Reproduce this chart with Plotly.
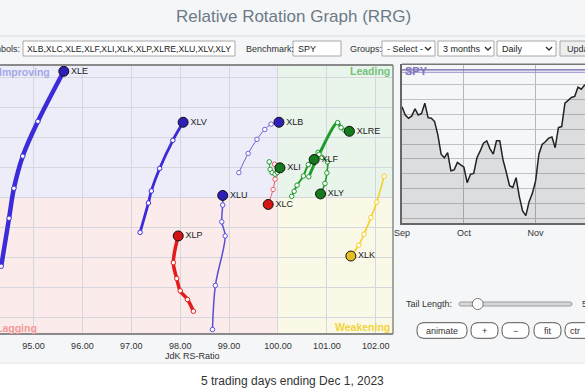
import plotly.graph_objects as go
import pandas as pd

W, H = 585, 390


def px(x):
    return x / W


def py(y):
    return 1 - y / H


# ---------------- RRG data (JdK RS-Ratio, JdK RS-Momentum), tail -> head ----------------
xle_ratio = [94.34, 94.50, 94.60, 94.78, 95.09, 95.62]
xle_mom = [97.70, 99.30, 100.30, 101.37, 102.53, 104.20]
xlv_ratio = [97.18, 97.35, 97.41, 97.58, 97.85, 98.06]
xlv_mom = [98.83, 99.81, 100.21, 100.96, 101.90, 102.50]
xlb_ratio = [99.20, 99.39, 99.57, 99.73, 99.86, 100.02]
xlb_mom = [100.82, 101.46, 101.93, 102.26, 102.44, 102.50]
xlu_ratio = [98.66, 98.72, 98.92, 98.85, 98.87, 98.87]
xlu_mom = [95.59, 97.06, 98.71, 99.18, 99.74, 100.06]
xlp_ratio = [98.27, 98.15, 98.00, 97.93, 97.86, 97.96]
xlp_mom = [96.20, 96.59, 96.88, 97.29, 97.82, 98.71]
xlc_ratio = [99.93, 99.99, 99.95, 99.94, 99.90, 99.80]
xlc_mom = [101.10, 100.90, 100.77, 100.60, 100.26, 99.76]
xli_ratio = [99.82, 99.84, 99.88, 99.94, 99.99, 100.04]
xli_mom = [101.18, 100.93, 100.82, 100.77, 100.83, 100.98]
xlf_ratio = [100.28, 100.33, 100.39, 100.52, 100.62, 100.74]
xlf_mom = [100.03, 100.20, 100.40, 100.71, 101.09, 101.26]
xlre_ratio = [100.63, 100.84, 101.22, 101.29, 101.37, 101.46]
xlre_mom = [100.68, 101.43, 102.49, 102.32, 102.23, 102.20]
xly_ratio = [100.82, 100.90, 101.01, 101.00, 100.96, 100.87]
xly_mom = [101.50, 101.33, 101.18, 100.81, 100.46, 100.11]
xlk_ratio = [102.17, 102.02, 101.90, 101.76, 101.65, 101.49]
xlk_mom = [100.70, 99.84, 99.32, 98.77, 98.40, 98.04]

# ---------------- SPY benchmark closes ----------------
spy_close = [447.6, 444.8, 443.7, 444.5, 446.9, 444.8, 445.3, 448.8, 443.9, 443.7,
             442.6, 438.1, 431.6, 430.4, 432.1, 426.0, 426.3, 428.8, 428.0, 427.2,
             422.0, 424.8, 425.1, 430.4, 432.7, 435.3, 436.1, 433.4, 431.6, 436.1,
             436.1, 429.7, 425.5, 421.0, 420.4, 423.7, 417.3, 412.5, 410.9, 415.6,
             418.4, 422.6, 431.6, 434.9, 435.8, 437.0, 437.4, 433.8, 440.6, 440.9,
             448.8, 449.9, 450.7, 451.1, 454.2, 453.5, 454.9, 455.2]
spy_levels = [460.0, 459.2]
month_ticks = ["2023-09-05", "2023-10-02", "2023-11-01"]
month_labels = ["Sep", "Oct", "Nov"]

ratio_ticks = [95, 96, 97, 98, 99, 100, 101, 102]

days = pd.bdate_range("2023-09-05", "2023-12-01")
days = [d.strftime("%Y-%m-%d") for d in days if d.strftime("%Y-%m-%d") != "2023-11-23"]
spy_dates = days[:len(spy_close)]

BLUE, BLUE_H = "#3B2BD9", "#2D1FB8"
GREEN, GREEN_H = "#1F9B2C", "#157A1E"
RED, RED_H = "#E31B1B", "#D41414"
YEL, YEL_H = "#F5CF2A", "#E6BE22"

series = [
    ("XLU", xlu_ratio, xlu_mom, "#5A4FD8", BLUE_H, 1.5),
    ("XLB", xlb_ratio, xlb_mom, "#6E63DA", BLUE_H, 1.0),
    ("XLV", xlv_ratio, xlv_mom, BLUE, BLUE_H, 2.8),
    ("XLE", xle_ratio, xle_mom, BLUE, BLUE_H, 4.5),
    ("XLP", xlp_ratio, xlp_mom, RED, RED_H, 3.5),
    ("XLC", xlc_ratio, xlc_mom, "#F06060", RED_H, 1.0),
    ("XLK", xlk_ratio, xlk_mom, YEL, YEL_H, 1.6),
    ("XLI", xli_ratio, xli_mom, GREEN, GREEN_H, 1.0),
    ("XLY", xly_ratio, xly_mom, GREEN, GREEN_H, 1.6),
    ("XLF", xlf_ratio, xlf_mom, GREEN, GREEN_H, 2.0),
    ("XLRE", xlre_ratio, xlre_mom, GREEN, GREEN_H, 3.0),
]

fig = go.Figure()

for name, xs, ys, lc, hc, lw in series:
    fig.add_trace(go.Scatter(
        x=xs, y=ys, mode="lines+markers", line=dict(color=lc, width=lw, shape="spline"),
        marker=dict(size=4.5, color="white", line=dict(color=lc, width=1)),
        hoverinfo="skip", showlegend=False, xaxis="x", yaxis="y"))
for name, xs, ys, lc, hc, lw in series:
    fig.add_trace(go.Scatter(
        x=[xs[-1]], y=[ys[-1]], mode="markers+text", text=[name], textposition="middle right",
        textfont=dict(size=9, color="#222222"),
        marker=dict(size=10, color=hc, line=dict(color="#111111", width=1)),
        hoverinfo="skip", showlegend=False, xaxis="x", yaxis="y"))

# SPY chart
fig.add_trace(go.Scatter(
    x=spy_dates, y=spy_close, mode="lines", line=dict(color="#222222", width=1.5),
    fill="tozeroy", fillcolor="rgba(0,0,0,0.10)", hoverinfo="skip", showlegend=False,
    xaxis="x2", yaxis="y2"))

RRG_L, RRG_R, RRG_T, RRG_B = 0, 393, 65, 334
SPY_L, SPY_T, SPY_B = 402, 64.3, 223.3

shapes = []
ann = []


def rect(x0, y0, x1, y1, fill, line="rgba(0,0,0,0)", lw=0, layer="below"):
    shapes.append(dict(type="rect", xref="paper", yref="paper", x0=px(x0), x1=px(x1),
                       y0=py(y1), y1=py(y0), fillcolor=fill, line=dict(color=line, width=lw),
                       layer=layer))


def hline(x0, x1, y, color, lw=1, layer="above"):
    shapes.append(dict(type="line", xref="paper", yref="paper", x0=px(x0), x1=px(x1),
                       y0=py(y), y1=py(y), line=dict(color=color, width=lw), layer=layer))


def vline(x, y0, y1, color, lw=1, layer="above"):
    shapes.append(dict(type="line", xref="paper", yref="paper", x0=px(x), x1=px(x),
                       y0=py(y0), y1=py(y1), line=dict(color=color, width=lw), layer=layer))


def rrect(x0, y0, x1, y1, r, fill, line, lw=1):
    p = (f"M {px(x0 + r)},{py(y0)} L {px(x1 - r)},{py(y0)} Q {px(x1)},{py(y0)} {px(x1)},{py(y0 + r)} "
         f"L {px(x1)},{py(y1 - r)} Q {px(x1)},{py(y1)} {px(x1 - r)},{py(y1)} "
         f"L {px(x0 + r)},{py(y1)} Q {px(x0)},{py(y1)} {px(x0)},{py(y1 - r)} "
         f"L {px(x0)},{py(y0 + r)} Q {px(x0)},{py(y0)} {px(x0 + r)},{py(y0)} Z")
    shapes.append(dict(type="path", xref="paper", yref="paper", path=p, fillcolor=fill,
                       line=dict(color=line, width=lw), layer="above"))


def chevron(x, y, color="#333"):
    p = f"M {px(x - 3)},{py(y - 1.5)} L {px(x)},{py(y + 1.5)} L {px(x + 3)},{py(y - 1.5)}"
    shapes.append(dict(type="path", xref="paper", yref="paper", path=p,
                       line=dict(color=color, width=1.4), layer="above"))


def text(x, y, s, size=9, color="#333333", anchor="left", bold=False):
    ann.append(dict(xref="paper", yref="paper", x=px(x), y=py(y), text=(f"<b>{s}</b>" if bold else s),
                    showarrow=False, xanchor=anchor, yanchor="middle",
                    font=dict(size=size, color=color)))


# page backgrounds
rect(0, 0, 585, 362, "#F4F6F8")
hline(0, 585, 36, "#D5DADF", 1)
hline(0, 585, 363, "#DADDE0", 1)

# quadrants (data coords)
quad = [(94.0, 100, 100, 105, "#ECEDF8"), (100, 103, 100, 105, "#E9F4EA"),
        (94.0, 100, 95, 100, "#FCEBEB"), (100, 103, 95, 100, "#FAF9E7")]
for x0, x1, y0, y1, c in quad:
    shapes.append(dict(type="rect", xref="x", yref="y", x0=x0, x1=x1, y0=y0, y1=y1,
                       fillcolor=c, line=dict(width=0), layer="below"))
shapes.append(dict(type="line", xref="x", yref="paper", x0=100, x1=100, y0=py(RRG_B), y1=py(RRG_T),
                   line=dict(color="#6E6E6E", width=1.5), layer="between"))
shapes.append(dict(type="line", xref="paper", yref="y", x0=px(RRG_L), x1=px(RRG_R), y0=100, y1=100,
                   line=dict(color="#6E6E6E", width=1.5), layer="between"))
hline(RRG_L, RRG_R, RRG_T, "#8A8A8A", 2)
hline(RRG_L, RRG_R, RRG_B, "#8A8A8A", 2)
vline(RRG_R, RRG_T, RRG_B, "#8A8A8A", 1.5)

text(-2.9, 72, "Improving", 10.5, "#A3A8E6", bold=True)
text(392, 71, "Leading", 10.5, "#74C27F", anchor="right", bold=True)
text(-6.4, 327.5, "Lagging", 10.5, "#F29A9A", bold=True)
text(392, 327, "Weakening", 10.5, "#F2D43A", anchor="right", bold=True)
text(192, 356, "JdK RS-Ratio", 9, "#333333", anchor="center")

# title and toolbar
text(293, 17, "Relative Rotation Graph (RRG)", 17, "#6D7A86", anchor="center")
rect(23, 41, 235, 56, "#FFFFFF", "#A8A8A8", 1, "above")
text(22, 48.5, "Symbols:", 9, "#333333", anchor="right")
text(25, 48.5, "XLB,XLC,XLE,XLF,XLI,XLK,XLP,XLRE,XLU,XLV,XLY", 8.7, "#222222")
text(244, 48.5, "Benchmark:", 9, "#333333")
rect(293, 41, 341, 56, "#FFFFFF", "#A8A8A8", 1, "above")
text(296, 48.5, "SPY", 9, "#222222")
text(348, 48.5, "Groups:", 9, "#333333")
rect(382, 41, 435, 56, "#FFFFFF", "#A8A8A8", 1, "above")
text(385, 48.5, "- Select -", 9, "#222222")
chevron(428, 48.5)
rect(438, 41, 494, 56, "#FFFFFF", "#A8A8A8", 1, "above")
text(441, 48.5, "3 months", 9, "#222222")
chevron(488, 48.5)
rect(497, 41, 556, 56, "#FFFFFF", "#A8A8A8", 1, "above")
text(500, 48.5, "Daily", 9, "#222222")
chevron(549, 48.5)
rect(560, 41, 600, 56, "#EEEEEE", "#A8A8A8", 1, "above")
text(565, 48.5, "Update", 9, "#333333")

# SPY panel decorations
for lv, c in zip(spy_levels, ["#5F54B0", "#9A90D2"]):
    shapes.append(dict(type="line", xref="paper", yref="y2", x0=px(SPY_L), x1=1, y0=lv, y1=lv,
                       line=dict(color=c, width=1), layer="above"))
hline(SPY_L, 585, SPY_T, "#777777", 1.5)
text(403, 71, "SPY", 11, "#7F74B8", bold=True)

# tail length slider and buttons
text(404, 304, "Tail Length:", 9, "#333333")
rrect(459, 302, 572, 306, 2, "#D8D8D8", "#9A9A9A", 1)
shapes.append(dict(type="circle", xref="paper", yref="paper", x0=px(472.2), x1=px(483.2),
                   y0=py(309.5), y1=py(298.5), fillcolor="#FFFFFF", line=dict(color="#777777", width=1),
                   layer="above"))
text(580, 304, "5", 9, "#333333")
for x0, x1, lab in [(417, 467, "animate"), (471, 498, "+"), (502, 529, "\u2212"), (534, 561, "fit"),
                    (565, 600, "ctr")]:
    rrect(x0, 322.7, x1, 338.3, 7, "#FFFFFF", "#555555", 1)
    text((x0 + x1) / 2 if lab != "ctr" else 568, 330.5, lab, 9, "#333333",
         anchor="center" if lab != "ctr" else "left")

text(292, 381, "5 trading days ending Dec 1, 2023", 12, "#333333", anchor="center")

n_vis = (585 - SPY_L) / ((535 - 463.3) / 22)

fig.update_layout(
    width=W, height=H, margin=dict(l=0, r=0, t=0, b=0, pad=0, autoexpand=False),
    paper_bgcolor="#FFFFFF", plot_bgcolor="rgba(0,0,0,0)",
    font=dict(family="Liberation Sans, Arial, sans-serif", size=9, color="#333333"),
    annotations=ann,
    xaxis=dict(domain=[px(RRG_L), px(RRG_R)], range=[94.315, 102.352], tickvals=ratio_ticks,
               tickformat=".2f", showgrid=True, gridcolor="#D6D7DE", gridwidth=1, zeroline=False,
               ticks="", showline=False, tickfont=dict(size=9, color="#333333"),
               ticklabelstandoff=5, fixedrange=True, automargin=False),
    yaxis=dict(domain=[py(RRG_B), py(RRG_T)], range=[95.44, 104.41], dtick=1,
               showgrid=True, gridcolor="#D6D7DE", gridwidth=1, zeroline=False,
               showticklabels=False, ticks="", showline=False, fixedrange=True, automargin=False),
    xaxis2=dict(domain=[px(SPY_L), 1], type="category", range=[0, n_vis],
                tickvals=month_ticks, ticktext=month_labels, showgrid=True, gridcolor="#B8B8B8",
                zeroline=False, ticks="", showline=True, linecolor="#666666", linewidth=1.5,
                tickfont=dict(size=9, color="#333333"), anchor="y2", fixedrange=True,
                automargin=False),
    yaxis2=dict(domain=[py(SPY_B), py(SPY_T)], range=[408.3, 461.9], dtick=5,
                showgrid=True, gridcolor="#C2C2C2", zeroline=False, showticklabels=False,
                ticks="", showline=True, linecolor="#666666", linewidth=1.5, anchor="x2",
                fixedrange=True, automargin=False),
)
# SPY plot background
shapes.insert(0, dict(type="rect", xref="paper", yref="paper", x0=px(SPY_L), x1=1, y0=py(SPY_B),
                      y1=py(SPY_T), fillcolor="#F8F8F8", line=dict(width=0), layer="below"))
fig.update_layout(shapes=shapes)

fig.write_html(
    "out.html", config={"displayModeBar": False},
    post_script="document.body.style.margin='0';document.body.style.padding='0';"
                "document.body.style.overflow='hidden';document.documentElement.style.overflow='hidden';")
